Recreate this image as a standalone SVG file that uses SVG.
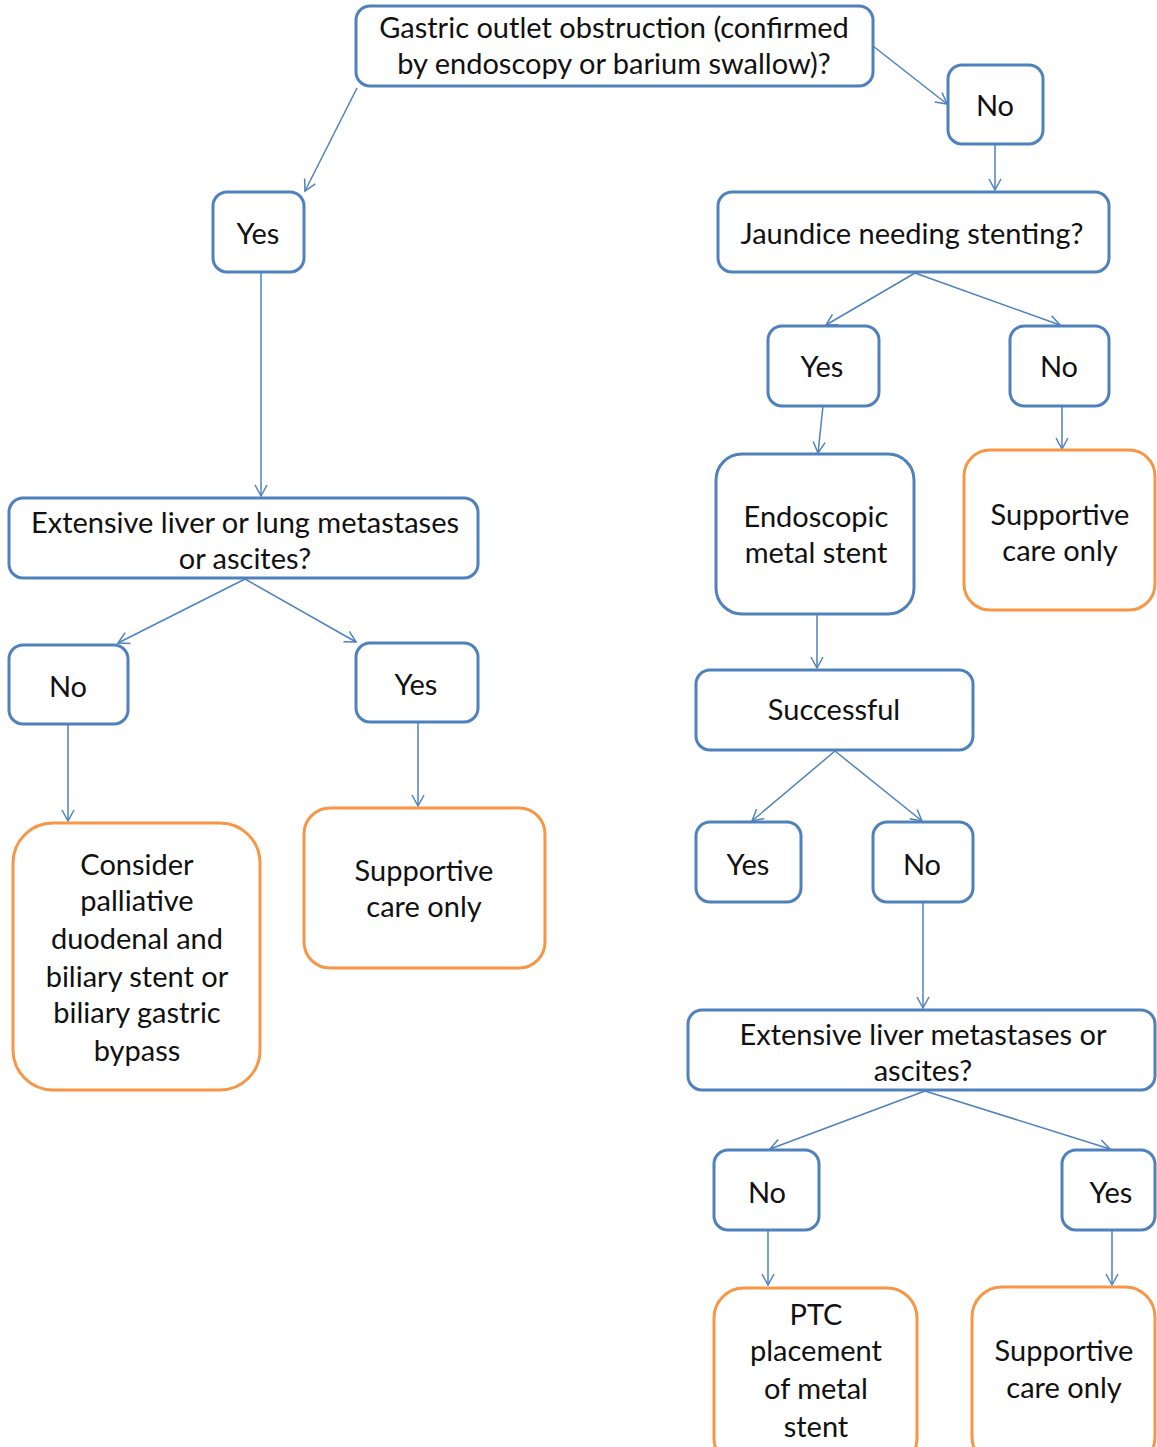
<svg xmlns="http://www.w3.org/2000/svg" width="1157" height="1447" viewBox="0 0 1157 1447">
<defs>
<marker id="ah" markerWidth="14" markerHeight="14" refX="12" refY="7" orient="auto" markerUnits="userSpaceOnUse">
<path d="M1,1 L12,7 L1,13" fill="none" stroke="#4F81BD" stroke-width="1.5"/>
</marker>
<style>
.b{fill:#fff;stroke:#4F81BD;stroke-width:3}
.o{fill:#fff;stroke:#F79646;stroke-width:3}
.t{font-family:Lato,"Liberation Sans",sans-serif;font-size:29px;fill:#111;text-anchor:middle}
.c line{stroke:#4F81BD;stroke-width:1.5;marker-end:url(#ah)}
</style>
</defs>
<rect width="1157" height="1447" fill="#fff"/>
<g class="c" id="connectors">
<line x1="357" y1="88" x2="305" y2="191"/>
<line x1="873" y1="46" x2="947" y2="104"/>
<line x1="995" y1="144" x2="995" y2="190"/>
<line x1="261" y1="272" x2="261" y2="496"/>
<line x1="915" y1="273" x2="826" y2="325"/>
<line x1="915" y1="273" x2="1060" y2="325"/>
<line x1="823" y1="406" x2="818" y2="453"/>
<line x1="1062" y1="406" x2="1062" y2="449"/>
<line x1="817" y1="614" x2="817" y2="668"/>
<line x1="245" y1="579" x2="118" y2="643"/>
<line x1="245" y1="579" x2="356" y2="642"/>
<line x1="68" y1="724" x2="68" y2="821"/>
<line x1="418" y1="722" x2="418" y2="806"/>
<line x1="835" y1="751" x2="752" y2="821"/>
<line x1="835" y1="751" x2="922" y2="821"/>
<line x1="923" y1="902" x2="923" y2="1008"/>
<line x1="925" y1="1091" x2="770" y2="1149"/>
<line x1="925" y1="1091" x2="1110" y2="1149"/>
<line x1="768" y1="1230" x2="768" y2="1285"/>
<line x1="1112" y1="1230" x2="1112" y2="1285"/>
</g>
<g id="n1"><rect class="b" x="356" y="6" width="517" height="80" rx="14"/><text class="t" x="614" y="38">Gastric outlet obstruction (confirmed</text><text class="t" x="614" y="74">by endoscopy or barium swallow)?</text></g>
<g id="n2"><rect class="b" x="948" y="65" width="95" height="79" rx="14"/><text class="t" x="995" y="116">No</text></g>
<g id="n3"><rect class="b" x="213" y="192" width="91" height="80" rx="14"/><text class="t" x="258" y="244">Yes</text></g>
<g id="n4"><rect class="b" x="718" y="192" width="391" height="80" rx="14"/><text class="t" x="912" y="244">Jaundice needing stenting?</text></g>
<g id="n5"><rect class="b" x="768" y="326" width="111" height="80" rx="14"/><text class="t" x="822" y="377">Yes</text></g>
<g id="n6"><rect class="b" x="1010" y="326" width="99" height="80" rx="14"/><text class="t" x="1059" y="377">No</text></g>
<g id="n7"><rect class="b" x="716" y="454" width="198" height="160" rx="26"/><text class="t" x="816" y="527">Endoscopic</text><text class="t" x="816" y="563">metal stent</text></g>
<g id="n8"><rect class="o" x="964" y="450" width="191" height="160" rx="26"/><text class="t" x="1060" y="525">Supportive</text><text class="t" x="1060" y="561">care only</text></g>
<g id="n9"><rect class="b" x="9" y="498" width="469" height="80" rx="14"/><text class="t" x="245" y="533">Extensive liver or lung metastases</text><text class="t" x="245" y="569">or ascites?</text></g>
<g id="n10"><rect class="b" x="9" y="645" width="119" height="79" rx="14"/><text class="t" x="68" y="697">No</text></g>
<g id="n11"><rect class="b" x="356" y="643" width="122" height="79" rx="14"/><text class="t" x="416" y="695">Yes</text></g>
<g id="n12"><rect class="o" x="13" y="823" width="247" height="267" rx="40"/><text class="t" x="137" y="875">Consider</text><text class="t" x="137" y="911">palliative</text><text class="t" x="137" y="949">duodenal and</text><text class="t" x="137" y="987">biliary stent or</text><text class="t" x="137" y="1023">biliary gastric</text><text class="t" x="137" y="1061">bypass</text></g>
<g id="n13"><rect class="o" x="304" y="808" width="241" height="160" rx="26"/><text class="t" x="424" y="881">Supportive</text><text class="t" x="424" y="917">care only</text></g>
<g id="n14"><rect class="b" x="696" y="670" width="277" height="80" rx="14"/><text class="t" x="834" y="720">Successful</text></g>
<g id="n15"><rect class="b" x="696" y="822" width="105" height="80" rx="14"/><text class="t" x="748" y="875">Yes</text></g>
<g id="n16"><rect class="b" x="873" y="822" width="100" height="80" rx="14"/><text class="t" x="922" y="875">No</text></g>
<g id="n17"><rect class="b" x="688" y="1010" width="467" height="80" rx="14"/><text class="t" x="923" y="1045">Extensive liver metastases or</text><text class="t" x="923" y="1081">ascites?</text></g>
<g id="n18"><rect class="b" x="714" y="1150" width="105" height="80" rx="14"/><text class="t" x="767" y="1203">No</text></g>
<g id="n19"><rect class="b" x="1062" y="1150" width="93" height="80" rx="14"/><text class="t" x="1111" y="1203">Yes</text></g>
<g id="n20"><rect class="o" x="714" y="1288" width="203" height="180" rx="30"/><text class="t" x="816" y="1325">PTC</text><text class="t" x="816" y="1361">placement</text><text class="t" x="816" y="1399">of metal</text><text class="t" x="816" y="1437">stent</text></g>
<g id="n21"><rect class="o" x="972" y="1287" width="183" height="180" rx="30"/><text class="t" x="1064" y="1361">Supportive</text><text class="t" x="1064" y="1398">care only</text></g>
</svg>
